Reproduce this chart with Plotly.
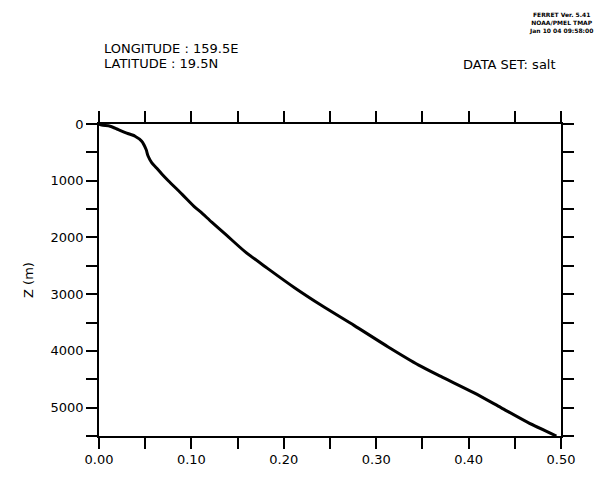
import plotly.graph_objects as go

# Vertical profile: depth (m) and value of the field at each level
depth_m = [0, 20, 40, 100, 160, 215, 300, 450, 560, 680, 770, 880, 1000,
           1240, 1470, 1550, 1730, 1960, 2250, 2540, 2890, 3200, 3550,
           3930, 4250, 4450, 4740, 5000, 5260, 5500]
salt = [0.000, 0.003, 0.012, 0.021, 0.030, 0.039, 0.046, 0.051, 0.053,
        0.057, 0.062, 0.068, 0.075, 0.090, 0.104, 0.110, 0.122, 0.138,
        0.158, 0.182, 0.212, 0.241, 0.276, 0.313, 0.346, 0.370, 0.406,
        0.435, 0.464, 0.495]

x_range = [0.0, 0.5]
z_range = [5500, 0]
x_ticks = [0.0, 0.1, 0.2, 0.3, 0.4, 0.5]
x_tick_text = ["0.00", "0.10", "0.20", "0.30", "0.40", "0.50"]
z_ticks = [0, 1000, 2000, 3000, 4000, 5000]
z_tick_text = ["0", "1000", "2000", "3000", "4000", "5000"]

FONT = "DejaVu Sans"

fig = go.Figure()
fig.add_trace(go.Scatter(
    x=salt, y=depth_m, mode="lines",
    line=dict(color="black", width=3, shape="spline", smoothing=0.7),
    showlegend=False, hoverinfo="skip",
))

axis_common = dict(
    showgrid=False, zeroline=False,
    showline=True, linecolor="black", linewidth=1.5,
    mirror="ticks", ticks="outside", ticklen=11, tickwidth=1.5,
    tickcolor="black",
    tickfont=dict(family=FONT, size=13, color="black"),
)

fig.update_xaxes(
    range=x_range, tickmode="array", tickvals=x_ticks, ticktext=x_tick_text,
    minor=dict(dtick=0.05, ticks="outside", ticklen=11, tickwidth=1.5,
               tickcolor="black", showgrid=False),
    **axis_common,
)
fig.update_yaxes(
    range=z_range, tickmode="array", tickvals=z_ticks, ticktext=z_tick_text,
    minor=dict(dtick=500, ticks="outside", ticklen=11, tickwidth=1.5,
               tickcolor="black", showgrid=False),
    title=dict(text="Z (m)", font=dict(family=FONT, size=13, color="black"),
               standoff=14),
    **axis_common,
)

# Plot-area geometry in pixels, used to place header text
L, R, T, B = 99, 561, 124, 441
W, H = 606, 479


def px(xp):
    return (xp - L) / (R - L)


def py(yp):
    return (B - yp) / (B - T)


annotations = [
    dict(text="LONGITUDE : 159.5E", x=px(102), y=py(47), xanchor="left",
         yanchor="middle", font=dict(family=FONT, size=13)),
    dict(text="LATITUDE : 19.5N", x=px(102), y=py(63), xanchor="left",
         yanchor="middle", font=dict(family=FONT, size=13)),
    dict(text="DATA SET: salt", x=px(558), y=py(64), xanchor="right",
         yanchor="middle", font=dict(family=FONT, size=13)),
    dict(text="<b>FERRET Ver. 5.41<br>NOAA/PMEL TMAP<br>Jan 10 04 09:58:00</b>",
         x=px(561), y=py(21), xanchor="center", yanchor="middle",
         align="center", font=dict(family=FONT, size=6)),
]
for a in annotations:
    a.update(xref="paper", yref="paper", showarrow=False)
    a["font"]["color"] = "black"

fig.update_layout(
    width=W, height=H,
    margin=dict(l=L, r=W - R, t=T, b=H - B, pad=0),
    paper_bgcolor="white", plot_bgcolor="white",
    annotations=annotations,
)

fig.write_html("out.html")
